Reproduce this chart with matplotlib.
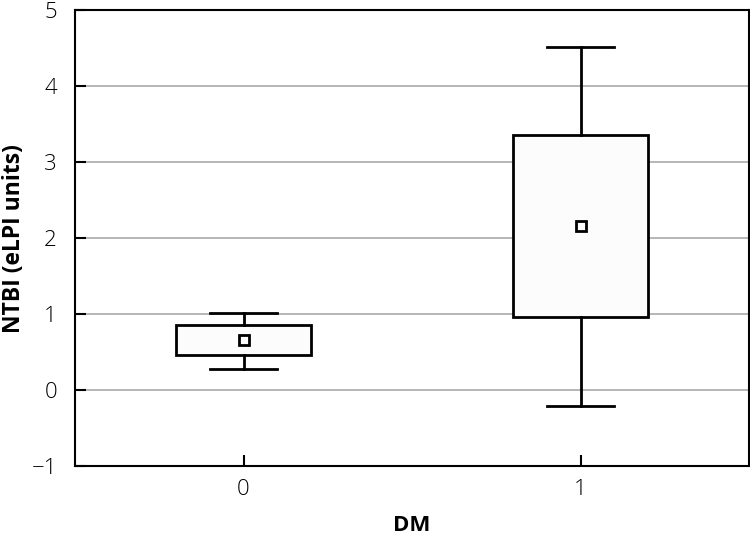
import matplotlib
matplotlib.use("Agg")
import matplotlib.pyplot as plt

plt.rcParams['font.family'] = ['Open Sans', 'DejaVu Sans']

groups = ["0", "1"]
q1 = [0.46, 0.96]
q3 = [0.86, 3.36]
whislo = [0.28, -0.21]
whishi = [1.02, 4.51]
means = [0.66, 2.16]

stats = []
for i, g in enumerate(groups):
    stats.append(dict(label=g, q1=q1[i], q3=q3[i], med=means[i], mean=means[i],
                      whislo=whislo[i], whishi=whishi[i], fliers=[]))

fig = plt.figure(figsize=(7.5, 5.37), dpi=100)
ax = fig.add_axes([0.1, 0.132, 0.899, 0.849])

ax.bxp(stats, positions=[0, 1], widths=0.4, showmeans=True, patch_artist=True,
       boxprops=dict(facecolor='#fcfcfc', edgecolor='black', linewidth=2),
       whiskerprops=dict(color='black', linewidth=2),
       capprops=dict(color='black', linewidth=2),
       medianprops=dict(linewidth=0),
       meanprops=dict(marker='s', markerfacecolor='white', markeredgecolor='black',
                      markersize=6.5, markeredgewidth=2),
       capwidths=0.2)

ax.set_xlim(-0.5, 1.5)
ax.set_ylim(-1, 5)
ax.set_yticks(range(-1, 6))
ax.set_xticks([0, 1])
ax.yaxis.grid(True, color='#aaaaaa', linewidth=1.2)
ax.set_axisbelow(True)
for s in ax.spines.values():
    s.set_linewidth(1.5)
ax.tick_params(direction='in', length=8, width=1.5)
ax.tick_params(axis='y', pad=13)
ax.tick_params(axis='x', pad=9)
ax.set_xticklabels(groups, fontsize=16, fontweight='light')
ax.set_yticklabels(['\u22121', '0', '1', '2', '3', '4', '5'], fontsize=16, fontweight='light')
ax.set_xlabel('DM', fontsize=16, fontweight='bold')
ax.xaxis.set_label_coords(0.5, -0.108)
ax.set_ylabel('NTBI (eLPI units)', fontsize=16.5, fontweight='bold')
ax.yaxis.set_label_coords(-0.072, 0.5)

fig.savefig('out.png', dpi=100)
